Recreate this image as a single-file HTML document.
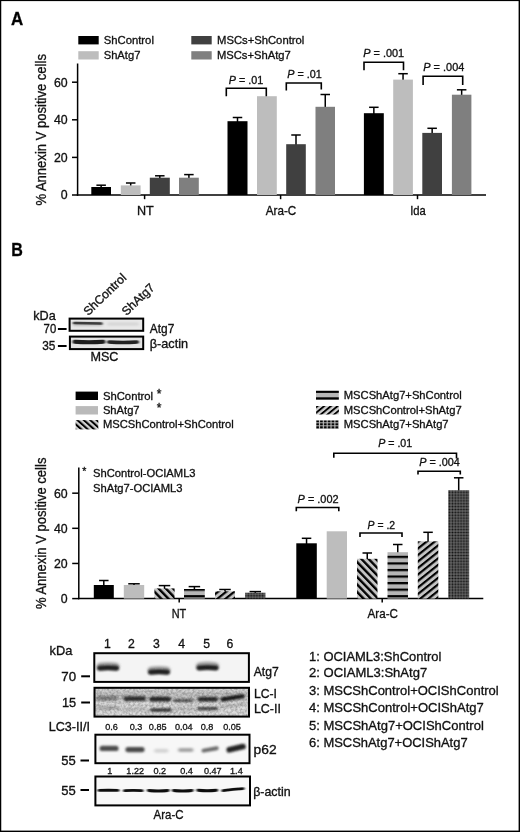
<!DOCTYPE html>
<html lang="en"><head><meta charset="utf-8"><title>Figure</title>
<style>html,body{margin:0;padding:0;background:#fff;}body{width:520px;height:832px;overflow:hidden;}svg{display:block;font-family:'Liberation Sans', Arial, Helvetica, sans-serif;}text{stroke:#111;stroke-width:0.32px;}</style>
</head><body>
<svg width="520" height="832" viewBox="0 0 520 832">
<defs>
<pattern id="hbL" patternUnits="userSpaceOnUse" width="4.27" height="10" patternTransform="translate(77.4 420.05) rotate(-48.2) translate(-1.0 0)"><rect width="4.27" height="10" fill="#d2d2d2"/><rect x="0" y="0" width="2.0" height="10" fill="#000"/></pattern>
<pattern id="hfL" patternUnits="userSpaceOnUse" width="4.27" height="10" patternTransform="translate(320.8 414.5) rotate(50.4) translate(-0.95 0)"><rect width="4.27" height="10" fill="#d2d2d2"/><rect x="0" y="0" width="1.9" height="10" fill="#000"/></pattern>
<pattern id="hgL" patternUnits="userSpaceOnUse" width="3.85" height="3.0" patternTransform="translate(316.1 420.3)"><rect width="3.85" height="3.0" fill="#c4c4c4"/><rect x="0.1" y="0" width="2.7" height="2.1" fill="#000"/></pattern>
<pattern id="hb" patternUnits="userSpaceOnUse" width="5.2" height="10" patternTransform="translate(357 561.9) rotate(-44) translate(-1.17 0)"><rect width="5.2" height="10" fill="#c4c4c4"/><rect x="0" y="0" width="2.35" height="10" fill="#000"/></pattern>
<pattern id="hf" patternUnits="userSpaceOnUse" width="5.07" height="10" patternTransform="translate(418 555) rotate(51.3) translate(-1.07 0)"><rect width="5.07" height="10" fill="#c4c4c4"/><rect x="0" y="0" width="2.15" height="10" fill="#000"/></pattern>
<pattern id="hh" patternUnits="userSpaceOnUse" width="10" height="6.56" patternTransform="translate(0 555.78)"><rect width="10" height="6.56" fill="#b6b6b6"/><rect x="0" y="0" width="10" height="2.25" fill="#000"/></pattern>
<pattern id="hg" patternUnits="userSpaceOnUse" width="2.875" height="2.875" patternTransform="translate(448.1 531.05)"><rect width="2.875" height="2.875" fill="#8c8c8c"/><rect x="0.4" y="0.4" width="2.1" height="2.1" fill="#0c0c0c"/></pattern>
<filter id="b1" filterUnits="userSpaceOnUse" x="0" y="0" width="520" height="832"><feGaussianBlur stdDeviation="1.2 0.9"/></filter>
<filter id="b2" filterUnits="userSpaceOnUse" x="0" y="0" width="520" height="832"><feGaussianBlur stdDeviation="0.8 0.6"/></filter>
<filter id="b3" filterUnits="userSpaceOnUse" x="0" y="0" width="520" height="832"><feGaussianBlur stdDeviation="1.6 1.2"/></filter>
<filter id="nz" filterUnits="userSpaceOnUse" x="0" y="0" width="520" height="832"><feTurbulence type="fractalNoise" baseFrequency="0.42" numOctaves="2" seed="7" result="t"/><feColorMatrix type="matrix" values="0 0 0 0 0  0 0 0 0 0  0 0 0 0 0  1.6 0 0 0 -0.55"/><feComposite in2="SourceGraphic" operator="in"/></filter>
</defs>
<rect x="0" y="0" width="520" height="832" fill="#fff"/>
<text x="10.9" y="25.2" font-size="18.2" textLength="12.2" lengthAdjust="spacingAndGlyphs" font-weight="bold" fill="#000">A</text>
<rect x="78.3" y="36" width="20.4" height="8.4" fill="#000"/>
<rect x="78.3" y="51.2" width="20.4" height="8.3" fill="#bdbdbd"/>
<rect x="191.3" y="36" width="20.4" height="8.4" fill="#404040"/>
<rect x="191.3" y="51.2" width="20.4" height="8.3" fill="#7f7f7f"/>
<text x="103.7" y="43.9" font-size="11.2" textLength="50.2" lengthAdjust="spacingAndGlyphs" fill="#111">ShControl</text>
<text x="103.7" y="58.7" font-size="11.2" fill="#111">ShAtg7</text>
<text x="217" y="43.9" font-size="11.2" textLength="87.3" lengthAdjust="spacingAndGlyphs" fill="#111">MSCs+ShControl</text>
<text x="217" y="58.7" font-size="11.2" fill="#111">MSCs+ShAtg7</text>
<line x1="77.6" y1="63.5" x2="77.6" y2="195.75" stroke="#000" stroke-width="1.5"/>
<line x1="76.85" y1="195.0" x2="486" y2="195.0" stroke="#000" stroke-width="1.5"/>
<line x1="72.0" y1="195.0" x2="77.6" y2="195.0" stroke="#000" stroke-width="1.5"/>
<text x="67.7" y="199.4" font-size="12.3" text-anchor="end" fill="#111">0</text>
<line x1="72.0" y1="157.4" x2="77.6" y2="157.4" stroke="#000" stroke-width="1.5"/>
<text x="67.7" y="161.8" font-size="12.3" text-anchor="end" fill="#111">20</text>
<line x1="72.0" y1="119.80000000000001" x2="77.6" y2="119.80000000000001" stroke="#000" stroke-width="1.5"/>
<text x="67.7" y="124.20000000000002" font-size="12.3" text-anchor="end" fill="#111">40</text>
<line x1="72.0" y1="82.2" x2="77.6" y2="82.2" stroke="#000" stroke-width="1.5"/>
<text x="67.7" y="86.60000000000001" font-size="12.3" text-anchor="end" fill="#111">60</text>
<text transform="translate(45.8 205.6) rotate(-90)" font-size="15.4" textLength="151.5" lengthAdjust="spacingAndGlyphs" fill="#111">% Annexin V positive cells</text>
<line x1="144.6" y1="195.0" x2="144.6" y2="199.2" stroke="#000" stroke-width="1.5"/>
<text x="137" y="215" font-size="12.4" textLength="16.8" lengthAdjust="spacingAndGlyphs" fill="#111">NT</text>
<line x1="280.6" y1="195.0" x2="280.6" y2="199.2" stroke="#000" stroke-width="1.5"/>
<text x="265.8" y="215" font-size="12.4" textLength="30.5" lengthAdjust="spacingAndGlyphs" fill="#111">Ara-C</text>
<line x1="417.5" y1="195.0" x2="417.5" y2="199.2" stroke="#000" stroke-width="1.5"/>
<text x="410.2" y="215" font-size="12.4" textLength="15.6" lengthAdjust="spacingAndGlyphs" fill="#111">Ida</text>
<line x1="101.15" y1="188.0" x2="101.15" y2="185.2" stroke="#000" stroke-width="1.5"/>
<line x1="96.4" y1="185.2" x2="105.9" y2="185.2" stroke="#000" stroke-width="1.5"/>
<rect x="91.3" y="187.0" width="19.7" height="8.0" fill="#000"/>
<line x1="130.7" y1="186.4" x2="130.7" y2="183.0" stroke="#000" stroke-width="1.5"/>
<line x1="125.94999999999999" y1="183.0" x2="135.45" y2="183.0" stroke="#000" stroke-width="1.5"/>
<rect x="120.8" y="185.4" width="19.8" height="9.6" fill="#bdbdbd"/>
<line x1="159.8" y1="178.7" x2="159.8" y2="175.8" stroke="#000" stroke-width="1.5"/>
<line x1="155.05" y1="175.8" x2="164.55" y2="175.8" stroke="#000" stroke-width="1.5"/>
<rect x="149.8" y="177.7" width="20.0" height="17.3" fill="#404040"/>
<line x1="188.9" y1="178.7" x2="188.9" y2="174.6" stroke="#000" stroke-width="1.5"/>
<line x1="184.15" y1="174.6" x2="193.65" y2="174.6" stroke="#000" stroke-width="1.5"/>
<rect x="179.0" y="177.7" width="19.8" height="17.3" fill="#7f7f7f"/>
<line x1="237.5" y1="122.2" x2="237.5" y2="117.5" stroke="#000" stroke-width="1.5"/>
<line x1="232.75" y1="117.5" x2="242.25" y2="117.5" stroke="#000" stroke-width="1.5"/>
<rect x="227.5" y="121.2" width="20.0" height="73.8" fill="#000"/>
<rect x="257.0" y="96.2" width="19.8" height="98.8" fill="#bdbdbd"/>
<line x1="296.0" y1="145.2" x2="296.0" y2="135.0" stroke="#000" stroke-width="1.5"/>
<line x1="291.25" y1="135.0" x2="300.75" y2="135.0" stroke="#000" stroke-width="1.5"/>
<rect x="286.2" y="144.2" width="19.6" height="50.8" fill="#404040"/>
<line x1="325.25" y1="107.8" x2="325.25" y2="94.5" stroke="#000" stroke-width="1.5"/>
<line x1="320.5" y1="94.5" x2="330.0" y2="94.5" stroke="#000" stroke-width="1.5"/>
<rect x="315.5" y="106.8" width="19.5" height="88.2" fill="#7f7f7f"/>
<line x1="373.85" y1="114.2" x2="373.85" y2="107.3" stroke="#000" stroke-width="1.5"/>
<line x1="369.1" y1="107.3" x2="378.6" y2="107.3" stroke="#000" stroke-width="1.5"/>
<rect x="363.9" y="113.2" width="19.9" height="81.8" fill="#000"/>
<line x1="403.04999999999995" y1="80.6" x2="403.04999999999995" y2="73.7" stroke="#000" stroke-width="1.5"/>
<line x1="398.29999999999995" y1="73.7" x2="407.79999999999995" y2="73.7" stroke="#000" stroke-width="1.5"/>
<rect x="393.2" y="79.6" width="19.7" height="115.4" fill="#bdbdbd"/>
<line x1="432.15" y1="133.9" x2="432.15" y2="128.3" stroke="#000" stroke-width="1.5"/>
<line x1="427.4" y1="128.3" x2="436.9" y2="128.3" stroke="#000" stroke-width="1.5"/>
<rect x="422.3" y="132.9" width="19.7" height="62.1" fill="#404040"/>
<line x1="461.65" y1="95.7" x2="461.65" y2="89.8" stroke="#000" stroke-width="1.5"/>
<line x1="456.9" y1="89.8" x2="466.4" y2="89.8" stroke="#000" stroke-width="1.5"/>
<rect x="451.9" y="94.7" width="19.5" height="100.3" fill="#7f7f7f"/>
<polyline points="226.3,96.2 226.3,88.3 266.3,88.3 266.3,96.2" fill="none" stroke="#000" stroke-width="1.6"/>
<text x="228.8" y="83.7" font-size="11" textLength="34.5" lengthAdjust="spacingAndGlyphs" fill="#111"><tspan font-style="italic">P</tspan> = .01</text>
<polyline points="286.3,90.5 286.3,83.0 321.3,83.0 321.3,89.5" fill="none" stroke="#000" stroke-width="1.6"/>
<text x="287.2" y="77.5" font-size="11" textLength="34.5" lengthAdjust="spacingAndGlyphs" fill="#111"><tspan font-style="italic">P</tspan> = .01</text>
<polyline points="364.0,70.2 364.0,62.3 403.5,62.3 403.5,70.2" fill="none" stroke="#000" stroke-width="1.6"/>
<text x="363.2" y="56.7" font-size="11" textLength="41" lengthAdjust="spacingAndGlyphs" fill="#111"><tspan font-style="italic">P</tspan> = .001</text>
<polyline points="423.1,85 423.1,76.3 462.7,76.3 462.7,85" fill="none" stroke="#000" stroke-width="1.6"/>
<text x="423.3" y="71.0" font-size="11" textLength="41" lengthAdjust="spacingAndGlyphs" fill="#111"><tspan font-style="italic">P</tspan> = .004</text>
<text x="11.3" y="255.9" font-size="18.2" textLength="11.6" lengthAdjust="spacingAndGlyphs" font-weight="bold" fill="#000">B</text>
<g>
<rect x="69.6" y="318.6" width="73.6" height="12.2" fill="#e9e9e9"/>
<rect x="69.9" y="336.6" width="73.3" height="12.5" fill="#e4e4e4"/>
<path d="M74.4,323.9 Q87.8,323.9 101.2,323.9" fill="none" stroke="#b4b4b4" stroke-width="3.6" stroke-linecap="round" filter="url(#b3)" opacity="1"/>
<path d="M74.2,323.0 Q87.7,323.3 101.2,323.6" fill="none" stroke="#3c3c3c" stroke-width="2.5" stroke-linecap="round" filter="url(#b2)" opacity="1"/>
<path d="M108.5,324.0 Q123.0,324.0 137.5,324.0" fill="none" stroke="#d4d4d4" stroke-width="3.0" stroke-linecap="round" filter="url(#b3)" opacity="1"/>
<path d="M74.5,341.8 Q89.0,342.8 103.5,341.8" fill="none" stroke="#1a1a1a" stroke-width="3.9" stroke-linecap="round" filter="url(#b2)" opacity="1"/>
<path d="M108.8,342.0 Q123.0,343.0 137.2,342.0" fill="none" stroke="#202020" stroke-width="3.5" stroke-linecap="round" filter="url(#b2)" opacity="1"/>
<rect x="69.6" y="318.6" width="73.6" height="12.2" fill="none" stroke="#000" stroke-width="2"/>
<rect x="69.9" y="336.6" width="73.3" height="12.5" fill="none" stroke="#000" stroke-width="2"/>
</g>
<text x="33.3" y="320.4" font-size="12.4" textLength="22.5" lengthAdjust="spacingAndGlyphs" fill="#111">kDa</text>
<text x="43.6" y="332.9" font-size="12" textLength="12.6" lengthAdjust="spacingAndGlyphs" fill="#111">70</text>
<line x1="57.9" y1="329" x2="66.6" y2="329" stroke="#000" stroke-width="2"/>
<text x="42.2" y="350.2" font-size="12" textLength="13.2" lengthAdjust="spacingAndGlyphs" fill="#111">35</text>
<line x1="57.9" y1="346" x2="66.6" y2="346" stroke="#000" stroke-width="2"/>
<text x="149.8" y="332.9" font-size="12.2" textLength="24.5" lengthAdjust="spacingAndGlyphs" fill="#111">Atg7</text>
<text x="149.8" y="348.3" font-size="12.2" textLength="38.2" lengthAdjust="spacingAndGlyphs" fill="#111">β-actin</text>
<text x="90.4" y="361.2" font-size="12.9" textLength="28.0" lengthAdjust="spacingAndGlyphs" fill="#111">MSC</text>
<text transform="translate(88.2 316.2) rotate(-44)" font-size="12.2" fill="#111">ShControl</text>
<text transform="translate(126.5 316.2) rotate(-44)" font-size="12.2" fill="#111">ShAtg7</text>
<rect x="75.6" y="391.6" width="22.4" height="8.4" fill="#000"/>
<rect x="75.6" y="406.1" width="22.4" height="8.4" fill="#bababa"/>
<rect x="75.6" y="420.1" width="22.7" height="9.3" fill="url(#hbL)"/>
<text x="102.9" y="400" font-size="11.2" textLength="50.2" lengthAdjust="spacingAndGlyphs" fill="#111">ShControl</text>
<text x="102.9" y="414" font-size="11.2" fill="#111">ShAtg7</text>
<text x="102.9" y="427.9" font-size="11.2" fill="#111">MSCShControl+ShControl</text>
<text x="156.8" y="397.5" font-size="12" fill="#111">*</text>
<text x="156.8" y="411.5" font-size="12" fill="#111">*</text>
<rect x="316" y="390.8" width="22.8" height="8.8" fill="#b6b6b6"/>
<rect x="316" y="390.8" width="22.8" height="2.1" fill="#000"/>
<rect x="316" y="397.3" width="22.8" height="2.3" fill="#000"/>
<rect x="316.1" y="406.0" width="22.8" height="8.5" fill="url(#hfL)"/>
<rect x="316.2" y="420.3" width="22.7" height="8.7" fill="url(#hgL)"/>
<text x="343.8" y="399.3" font-size="11.2" fill="#111">MSCShAtg7+ShControl</text>
<text x="343.8" y="413.9" font-size="11.2" fill="#111">MSCShControl+ShAtg7</text>
<text x="343.8" y="428.1" font-size="11.2" fill="#111">MSCShAtg7+ShAtg7</text>
<line x1="78.8" y1="467.5" x2="78.8" y2="599.35" stroke="#000" stroke-width="1.5"/>
<line x1="78.05" y1="598.6" x2="483.3" y2="598.6" stroke="#000" stroke-width="1.5"/>
<line x1="72.2" y1="598.6" x2="78.8" y2="598.6" stroke="#000" stroke-width="1.5"/>
<text x="67.7" y="603.0" font-size="12.3" text-anchor="end" fill="#111">0</text>
<line x1="72.2" y1="563.46" x2="78.8" y2="563.46" stroke="#000" stroke-width="1.5"/>
<text x="67.7" y="567.86" font-size="12.3" text-anchor="end" fill="#111">20</text>
<line x1="72.2" y1="528.32" x2="78.8" y2="528.32" stroke="#000" stroke-width="1.5"/>
<text x="67.7" y="532.72" font-size="12.3" text-anchor="end" fill="#111">40</text>
<line x1="72.2" y1="493.18000000000006" x2="78.8" y2="493.18000000000006" stroke="#000" stroke-width="1.5"/>
<text x="67.7" y="497.58000000000004" font-size="12.3" text-anchor="end" fill="#111">60</text>
<text transform="translate(45.9 609.1) rotate(-90)" font-size="15.4" textLength="151.5" lengthAdjust="spacingAndGlyphs" fill="#111">% Annexin V positive cells</text>
<text x="82.2" y="474.6" font-size="10.5" fill="#111">*</text>
<text x="93" y="477" font-size="11.2" fill="#111">ShControl-OCIAML3</text>
<text x="93" y="492" font-size="11.2" fill="#111">ShAtg7-OCIAML3</text>
<line x1="179.2" y1="598.6" x2="179.2" y2="602.6" stroke="#000" stroke-width="1.5"/>
<text x="171.7" y="618" font-size="12.0" textLength="14.5" lengthAdjust="spacingAndGlyphs" fill="#111">NT</text>
<line x1="382.2" y1="598.6" x2="382.2" y2="602.6" stroke="#000" stroke-width="1.5"/>
<text x="367.6" y="618" font-size="12.0" textLength="30.4" lengthAdjust="spacingAndGlyphs" fill="#111">Ara-C</text>
<line x1="103.8" y1="586.0" x2="103.8" y2="580.5" stroke="#000" stroke-width="1.5"/>
<line x1="99.05" y1="580.5" x2="108.55" y2="580.5" stroke="#000" stroke-width="1.5"/>
<rect x="93.8" y="585.0" width="20.0" height="13.6" fill="#000"/>
<line x1="134.0" y1="586.0" x2="134.0" y2="583.8" stroke="#000" stroke-width="1.5"/>
<line x1="128.25" y1="583.8" x2="139.75" y2="583.8" stroke="#000" stroke-width="1.5"/>
<rect x="123.8" y="585.0" width="20.4" height="13.6" fill="#bdbdbd"/>
<line x1="164.5" y1="589.4" x2="164.5" y2="585.6" stroke="#000" stroke-width="1.5"/>
<line x1="158.75" y1="585.6" x2="170.25" y2="585.6" stroke="#000" stroke-width="1.5"/>
<rect x="154.4" y="588.4" width="20.2" height="10.2" fill="url(#hb)"/>
<line x1="194.4" y1="590.0" x2="194.4" y2="586.6" stroke="#000" stroke-width="1.5"/>
<line x1="188.65" y1="586.6" x2="200.15" y2="586.6" stroke="#000" stroke-width="1.5"/>
<rect x="184.0" y="589.0" width="20.8" height="9.6" fill="url(#hh)"/>
<line x1="225.0" y1="592.3" x2="225.0" y2="589.5" stroke="#000" stroke-width="1.5"/>
<line x1="219.25" y1="589.5" x2="230.75" y2="589.5" stroke="#000" stroke-width="1.5"/>
<rect x="215.0" y="591.3" width="20.0" height="7.3" fill="url(#hf)"/>
<line x1="255.29999999999998" y1="593.7" x2="255.29999999999998" y2="591.6" stroke="#000" stroke-width="1.5"/>
<line x1="249.54999999999998" y1="591.6" x2="261.04999999999995" y2="591.6" stroke="#000" stroke-width="1.5"/>
<rect x="245.2" y="592.7" width="20.2" height="5.9" fill="url(#hg)"/>
<line x1="306.55" y1="544.3" x2="306.55" y2="538.3" stroke="#000" stroke-width="1.5"/>
<line x1="301.8" y1="538.3" x2="311.3" y2="538.3" stroke="#000" stroke-width="1.5"/>
<rect x="296.3" y="543.3" width="20.5" height="55.3" fill="#000"/>
<rect x="326.7" y="531.3" width="20.3" height="67.3" fill="#bdbdbd"/>
<line x1="367.25" y1="559.8" x2="367.25" y2="553.0" stroke="#000" stroke-width="1.5"/>
<line x1="362.5" y1="553.0" x2="372.0" y2="553.0" stroke="#000" stroke-width="1.5"/>
<rect x="357.0" y="558.8" width="20.5" height="39.8" fill="url(#hb)"/>
<line x1="397.75" y1="553.2" x2="397.75" y2="544.5" stroke="#000" stroke-width="1.5"/>
<line x1="393.0" y1="544.5" x2="402.5" y2="544.5" stroke="#000" stroke-width="1.5"/>
<rect x="387.5" y="552.2" width="20.5" height="46.4" fill="url(#hh)"/>
<line x1="428.05" y1="542.3" x2="428.05" y2="532.3" stroke="#000" stroke-width="1.5"/>
<line x1="423.3" y1="532.3" x2="432.8" y2="532.3" stroke="#000" stroke-width="1.5"/>
<rect x="417.8" y="541.3" width="20.5" height="57.3" fill="url(#hf)"/>
<line x1="458.7" y1="491.2" x2="458.7" y2="477.8" stroke="#000" stroke-width="1.5"/>
<line x1="453.95" y1="477.8" x2="463.45" y2="477.8" stroke="#000" stroke-width="1.5"/>
<rect x="448.2" y="490.2" width="21.0" height="108.4" fill="url(#hg)"/>
<polyline points="296.3,511.3 296.3,507.5 338.8,507.5 338.8,511.3" fill="none" stroke="#000" stroke-width="1.6"/>
<text x="297.6" y="502.5" font-size="11" textLength="41" lengthAdjust="spacingAndGlyphs" fill="#111"><tspan font-style="italic">P</tspan> = .002</text>
<polyline points="360.0,537.0 360.0,533.0 402.0,533.0 402.0,537.0" fill="none" stroke="#000" stroke-width="1.6"/>
<text x="367.6" y="528.7" font-size="11" textLength="27.5" lengthAdjust="spacingAndGlyphs" fill="#111"><tspan font-style="italic">P</tspan> = .2</text>
<polyline points="333.8,457.7 333.8,453.2 456.5,453.2 456.5,458.4" fill="none" stroke="#000" stroke-width="1.6"/>
<text x="378.2" y="447.3" font-size="11" textLength="34" lengthAdjust="spacingAndGlyphs" fill="#111"><tspan font-style="italic">P</tspan> = .01</text>
<polyline points="418.0,474.6 418.0,471.2 460.3,471.2 460.3,474.6" fill="none" stroke="#000" stroke-width="1.6"/>
<text x="419.2" y="466.1" font-size="11" textLength="40.6" lengthAdjust="spacingAndGlyphs" fill="#111"><tspan font-style="italic">P</tspan> = .004</text>
<text x="107.5" y="648.2" font-size="12.2" text-anchor="middle" fill="#111">1</text>
<text x="131.3" y="648.2" font-size="12.2" text-anchor="middle" fill="#111">2</text>
<text x="156.3" y="648.2" font-size="12.2" text-anchor="middle" fill="#111">3</text>
<text x="181.7" y="648.2" font-size="12.2" text-anchor="middle" fill="#111">4</text>
<text x="206.6" y="648.2" font-size="12.2" text-anchor="middle" fill="#111">5</text>
<text x="229.8" y="648.2" font-size="12.2" text-anchor="middle" fill="#111">6</text>
<text x="49.5" y="654.5" font-size="12.4" textLength="22.8" lengthAdjust="spacingAndGlyphs" fill="#111">kDa</text>
<g>
<rect x="94.3" y="653.2" width="154.6" height="28.7" fill="#f4f4f4"/>
<path d="M100.8,666.5 Q108.0,665.3 115.3,666.5" fill="none" stroke="#909090" stroke-width="8.0" stroke-linecap="round" filter="url(#b3)" opacity="0.8"/>
<path d="M99.5,668.2 Q108.0,667.0 116.6,668.2" fill="none" stroke="#1c1c1c" stroke-width="4.8" stroke-linecap="round" filter="url(#b1)" opacity="1"/>
<path d="M151.8,670.5 Q159.0,669.3 166.2,670.5" fill="none" stroke="#909090" stroke-width="8.0" stroke-linecap="round" filter="url(#b3)" opacity="0.8"/>
<path d="M150.5,672.2 Q159.0,671.0 167.5,672.2" fill="none" stroke="#1c1c1c" stroke-width="4.8" stroke-linecap="round" filter="url(#b1)" opacity="1"/>
<path d="M200.2,666.2 Q207.5,665.0 214.8,666.2" fill="none" stroke="#909090" stroke-width="8.0" stroke-linecap="round" filter="url(#b3)" opacity="0.8"/>
<path d="M198.9,667.9 Q207.5,666.7 216.1,667.9" fill="none" stroke="#1c1c1c" stroke-width="4.8" stroke-linecap="round" filter="url(#b1)" opacity="1"/>
<rect x="94.3" y="653.2" width="154.6" height="28.7" fill="none" stroke="#000" stroke-width="2"/>
</g>
<g>
<rect x="94.5" y="687.8" width="154.5" height="28.8" fill="#d2d2d2"/>
<rect x="95" y="701" width="154" height="15" fill="#dcdcdc" filter="url(#b3)"/>
<rect x="95" y="692" width="154" height="9" fill="#c4c4c4" filter="url(#b3)"/>
<path d="M98.7,698.2 Q107.2,698.2 115.8,698.2" fill="none" stroke="#808080" stroke-width="4.4" stroke-linecap="round" filter="url(#b3)" opacity="1"/>
<path d="M125.8,698.6 Q134.8,698.6 143.7,698.6" fill="none" stroke="#303030" stroke-width="4.6" stroke-linecap="round" filter="url(#b1)" opacity="1"/>
<path d="M151.9,699.2 Q160.2,699.2 168.6,699.2" fill="none" stroke="#282828" stroke-width="4.8" stroke-linecap="round" filter="url(#b1)" opacity="1"/>
<path d="M175.1,700.6 Q183.5,700.6 191.9,700.6" fill="none" stroke="#5a5a5a" stroke-width="3.2" stroke-linecap="round" filter="url(#b1)" opacity="1"/>
<path d="M199.7,699.2 Q207.8,699.2 215.8,699.2" fill="none" stroke="#2c2c2c" stroke-width="4.4" stroke-linecap="round" filter="url(#b1)" opacity="1"/>
<path d="M222.6,699.4 Q232.5,697.8 242.4,696.2" fill="none" stroke="#141414" stroke-width="4.2" stroke-linecap="round" filter="url(#b1)" opacity="1"/>
<path d="M98.1,707.8 Q108.2,707.8 118.4,707.8" fill="none" stroke="#a6a6a6" stroke-width="3.2" stroke-linecap="round" filter="url(#b3)" opacity="1"/>
<path d="M151.7,710.0 Q161.0,710.0 170.3,710.0" fill="none" stroke="#383838" stroke-width="3.4" stroke-linecap="round" filter="url(#b1)" opacity="1"/>
<path d="M198.6,708.6 Q207.5,708.6 216.4,708.6" fill="none" stroke="#4a4a4a" stroke-width="3.2" stroke-linecap="round" filter="url(#b1)" opacity="1"/>
<path d="M123.5,709.5 Q135.0,709.5 146.5,709.5" fill="none" stroke="#bcbcbc" stroke-width="3.0" stroke-linecap="round" filter="url(#b3)" opacity="1"/>
<path d="M173.3,709.0 Q184.5,709.0 195.7,709.0" fill="none" stroke="#b4b4b4" stroke-width="2.6" stroke-linecap="round" filter="url(#b3)" opacity="1"/>
<path d="M220.3,706.7 Q232.5,705.5 244.7,704.3" fill="none" stroke="#b4b4b4" stroke-width="2.6" stroke-linecap="round" filter="url(#b3)" opacity="1"/>
<rect x="95" y="688" width="154" height="28.6" fill="#000" filter="url(#nz)" opacity="0.32"/>
<rect x="94.5" y="687.8" width="154.5" height="28.8" fill="none" stroke="#000" stroke-width="2"/>
</g>
<g>
<rect x="95.4" y="734.7" width="154.1" height="28.5" fill="#f7f7f7"/>
<path d="M102.3,748.4 Q109.1,748.4 115.9,748.4" fill="none" stroke="#4c4c4c" stroke-width="5.4" stroke-linecap="round" filter="url(#b1)" opacity="1"/>
<path d="M128.1,749.6 Q135.0,749.6 141.9,749.6" fill="none" stroke="#484848" stroke-width="5.4" stroke-linecap="round" filter="url(#b1)" opacity="1"/>
<path d="M156.0,750.8 Q161.2,750.8 166.5,750.8" fill="none" stroke="#d4d4d4" stroke-width="4.0" stroke-linecap="round" filter="url(#b3)" opacity="1"/>
<path d="M180.1,750.0 Q185.8,750.0 191.4,750.0" fill="none" stroke="#a4a4a4" stroke-width="4.2" stroke-linecap="round" filter="url(#b3)" opacity="1"/>
<path d="M203.5,750.6 Q210.2,749.4 216.8,748.2" fill="none" stroke="#6c6c6c" stroke-width="4.0" stroke-linecap="round" filter="url(#b1)" opacity="1"/>
<path d="M229.2,749.8 Q236.1,748.2 243.0,746.6" fill="none" stroke="#242424" stroke-width="5.6" stroke-linecap="round" filter="url(#b1)" opacity="1"/>
<rect x="95.4" y="734.7" width="154.1" height="28.5" fill="none" stroke="#000" stroke-width="2"/>
</g>
<g>
<rect x="95.4" y="776.5" width="154.6" height="28.9" fill="#f8f8f8"/>
<path d="M99.0,790.4 Q108.5,790.0 118.0,790.4" fill="none" stroke="#111" stroke-width="2.9" stroke-linecap="round" filter="url(#b2)" opacity="1"/>
<path d="M124.5,790.6 Q133.2,790.2 142.1,790.6" fill="none" stroke="#111" stroke-width="2.9" stroke-linecap="round" filter="url(#b2)" opacity="1"/>
<path d="M148.4,790.5 Q158.2,791.5 168.1,790.5" fill="none" stroke="#111" stroke-width="2.9" stroke-linecap="round" filter="url(#b2)" opacity="1"/>
<path d="M173.4,790.5 Q182.8,791.5 192.1,790.5" fill="none" stroke="#111" stroke-width="2.9" stroke-linecap="round" filter="url(#b2)" opacity="1"/>
<path d="M197.9,790.3 Q207.2,791.3 216.6,790.3" fill="none" stroke="#111" stroke-width="2.9" stroke-linecap="round" filter="url(#b2)" opacity="1"/>
<path d="M222.9,790.6 Q233.0,789.2 243.1,788.6" fill="none" stroke="#111" stroke-width="2.9" stroke-linecap="round" filter="url(#b2)" opacity="1"/>
<rect x="95.4" y="776.5" width="154.6" height="28.9" fill="none" stroke="#000" stroke-width="2"/>
</g>
<text x="61.3" y="681.3" font-size="12" textLength="14.8" lengthAdjust="spacingAndGlyphs" fill="#111">70</text>
<line x1="81.2" y1="676.3" x2="90" y2="676.3" stroke="#000" stroke-width="2"/>
<text x="62" y="707" font-size="12" textLength="14.2" lengthAdjust="spacingAndGlyphs" fill="#111">15</text>
<line x1="81.2" y1="702.5" x2="90" y2="702.5" stroke="#000" stroke-width="2"/>
<text x="61.3" y="765" font-size="12" textLength="14.5" lengthAdjust="spacingAndGlyphs" fill="#111">55</text>
<line x1="80.5" y1="760.5" x2="89" y2="760.5" stroke="#000" stroke-width="2"/>
<text x="61.3" y="795" font-size="12" textLength="14.5" lengthAdjust="spacingAndGlyphs" fill="#111">55</text>
<line x1="80.5" y1="790" x2="89" y2="790" stroke="#000" stroke-width="2"/>
<text x="48.8" y="731.2" font-size="12.2" textLength="41.2" lengthAdjust="spacingAndGlyphs" fill="#111">LC3-II/I</text>
<text x="111.6" y="730.2" font-size="9.1" text-anchor="middle" fill="#222" stroke="none">0.6</text>
<text x="136" y="730.2" font-size="9.1" text-anchor="middle" fill="#222" stroke="none">0.3</text>
<text x="157.7" y="730.2" font-size="9.1" text-anchor="middle" fill="#222" stroke="none">0.85</text>
<text x="183.8" y="730.2" font-size="9.1" text-anchor="middle" fill="#222" stroke="none">0.04</text>
<text x="207" y="730.2" font-size="9.1" text-anchor="middle" fill="#222" stroke="none">0.8</text>
<text x="232" y="730.2" font-size="9.1" text-anchor="middle" fill="#222" stroke="none">0.05</text>
<text x="109.8" y="773.8" font-size="9.1" text-anchor="middle" fill="#222" stroke="none">1</text>
<text x="135.2" y="773.8" font-size="9.1" text-anchor="middle" fill="#222" stroke="none">1.22</text>
<text x="159.8" y="773.8" font-size="9.1" text-anchor="middle" fill="#222" stroke="none">0.2</text>
<text x="186.6" y="773.8" font-size="9.1" text-anchor="middle" fill="#222" stroke="none">0.4</text>
<text x="212.8" y="773.8" font-size="9.1" text-anchor="middle" fill="#222" stroke="none">0.47</text>
<text x="236.4" y="773.8" font-size="9.1" text-anchor="middle" fill="#222" stroke="none">1.4</text>
<text x="253.7" y="675.8" font-size="12.2" textLength="25.0" lengthAdjust="spacingAndGlyphs" fill="#111">Atg7</text>
<text x="253.9" y="697.9" font-size="12.2" textLength="23.0" lengthAdjust="spacingAndGlyphs" fill="#111">LC-I</text>
<text x="253.9" y="712.8" font-size="12.2" textLength="27.0" lengthAdjust="spacingAndGlyphs" fill="#111">LC-II</text>
<text x="253.6" y="753.8" font-size="12.2" textLength="23.0" lengthAdjust="spacingAndGlyphs" fill="#111">p62</text>
<text x="253.2" y="795.5" font-size="12.2" textLength="37.5" lengthAdjust="spacingAndGlyphs" fill="#111">β-actin</text>
<text x="153.6" y="819.2" font-size="12.2" textLength="30.0" lengthAdjust="spacingAndGlyphs" fill="#111">Ara-C</text>
<text x="309.0" y="660.6" font-size="12.9" textLength="132.4" lengthAdjust="spacingAndGlyphs" fill="#111">1: OCIAML3:ShControl</text>
<text x="309.0" y="677.1" font-size="12.9" textLength="118.2" lengthAdjust="spacingAndGlyphs" fill="#111">2: OCIAML3:ShAtg7</text>
<text x="309.0" y="694.6" font-size="12.9" textLength="189.7" lengthAdjust="spacingAndGlyphs" fill="#111">3: MSCShControl+OCIShControl</text>
<text x="309.0" y="712.0" font-size="12.9" textLength="174.8" lengthAdjust="spacingAndGlyphs" fill="#111">4: MSCShControl+OCIShAtg7</text>
<text x="309.0" y="729.5" font-size="12.9" textLength="174.8" lengthAdjust="spacingAndGlyphs" fill="#111">5: MSCShAtg7+OCIShControl</text>
<text x="309.0" y="747.0" font-size="12.9" textLength="158.6" lengthAdjust="spacingAndGlyphs" fill="#111">6: MSCShAtg7+OCIShAtg7</text>
<rect x="0" y="0" width="1.25" height="832" fill="#000"/>
<rect x="0" y="0" width="520" height="1.1" fill="#000"/>
<rect x="518.6" y="0" width="1.4" height="832" fill="#000"/>
<rect x="0" y="830.6" width="520" height="1.4" fill="#000"/>
</svg>
</body></html>
